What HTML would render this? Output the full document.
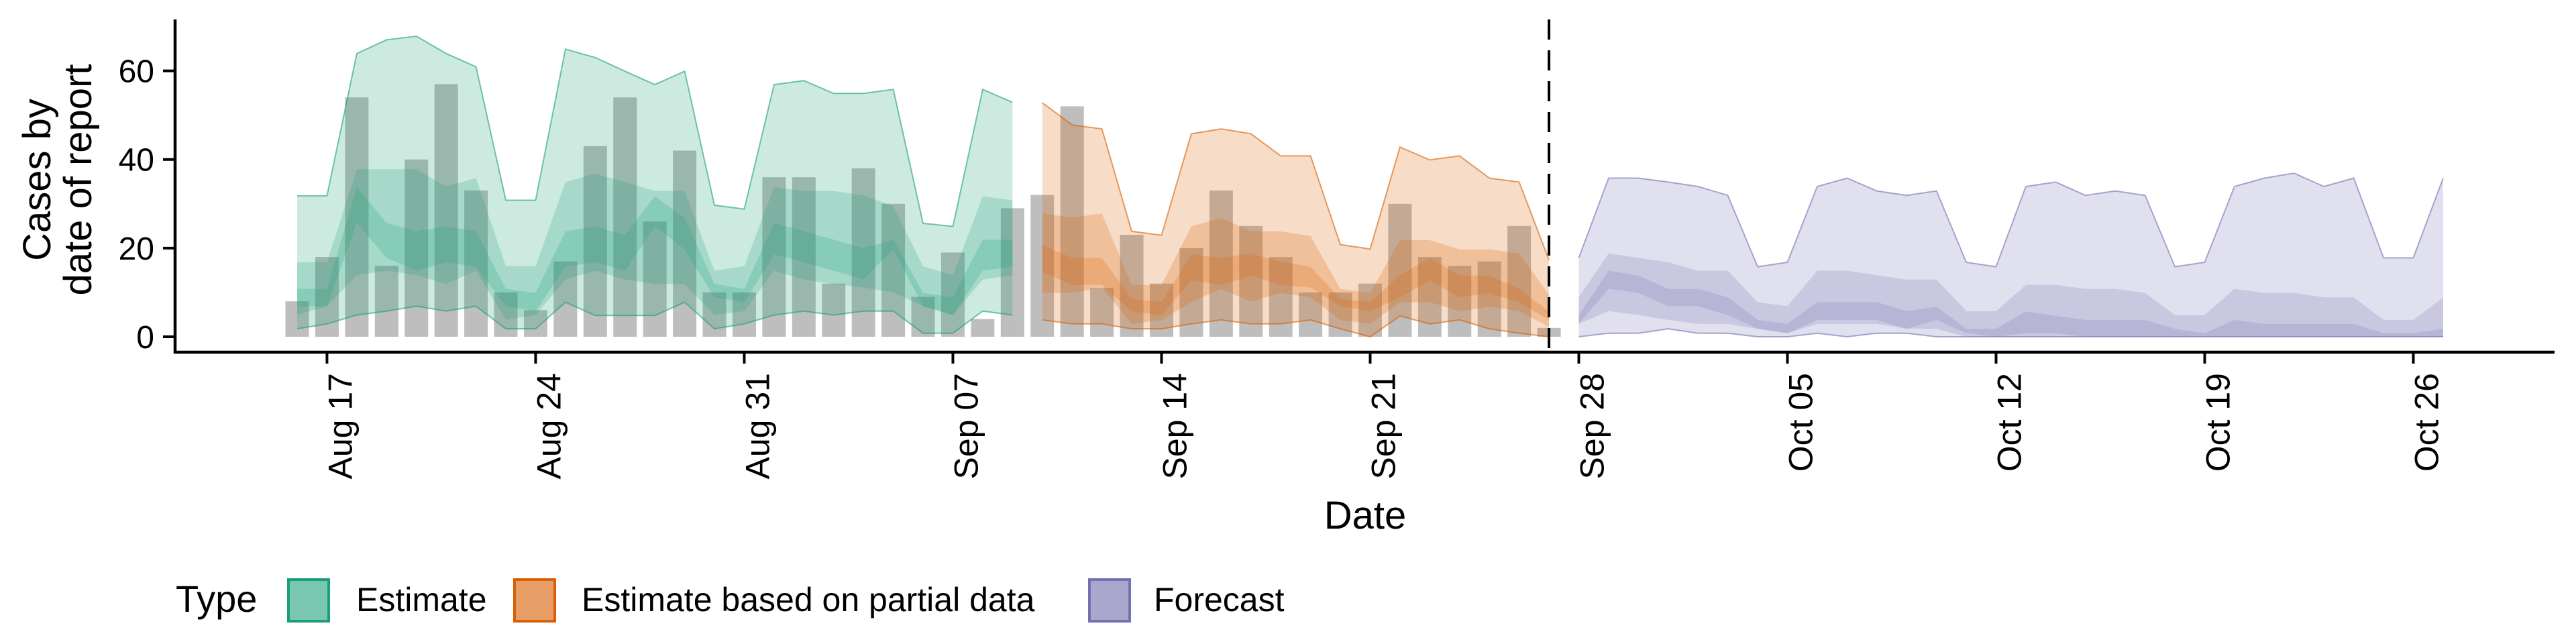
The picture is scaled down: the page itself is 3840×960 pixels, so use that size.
<!DOCTYPE html>
<html><head><meta charset="utf-8"><style>
html,body{margin:0;padding:0;background:#fff;}
svg{display:block;font-family:"Liberation Sans",Arial,sans-serif;}
</style></head><body>
<svg id="chart" width="3840" height="960" viewBox="0 0 3840 960" xmlns="http://www.w3.org/2000/svg">
<g id="plot"></g>
<text transform="translate(75,268) rotate(-90)" text-anchor="middle" font-size="58">Cases by</text>
<text transform="translate(136,268) rotate(-90)" text-anchor="middle" font-size="58">date of report</text>
<text x="2035" y="788" text-anchor="middle" font-size="58">Date</text>
<g>
<text x="262" y="912" font-size="56">Type</text>
<rect x="430" y="864" width="60" height="62" fill="#79c7ae" stroke="#1b9e77" stroke-width="4"/>
<text x="531" y="911" font-size="50">Estimate</text>
<rect x="767" y="864" width="60" height="62" fill="#e79e66" stroke="#d95f02" stroke-width="4"/>
<text x="867" y="911" font-size="50">Estimate based on partial data</text>
<rect x="1624" y="864" width="60" height="62" fill="#aaa7ce" stroke="#7570b3" stroke-width="4"/>
<text x="1720" y="911" font-size="50">Forecast</text>
</g>
</svg>
<script>
const reportedCases=[8,18,54,16,40,57,33,10,6,17,43,54,26,42,10,10,36,36,12,38,30,9,19,4,29,32,52,11,23,12,20,33,25,18,10,10,12,30,18,16,17,25,2];
const estStart=0;
const est90hi=[31.8,31.8,63.9,67,67.8,63.9,60.9,30.8,30.8,64.9,63,59.9,56.9,59.9,29.7,28.8,56.9,57.8,54.9,54.9,55.8,25.6,24.9,55.8,52.9];
const est90lo=[1.8,2.9,4.9,5.8,6.9,5.8,6.9,1.8,1.8,7.8,4.8,4.8,4.8,7.8,1.8,2.9,4.9,5.8,4.9,5.8,5.8,0.8,0.8,5.8,4.9];
const est50hi=[16.8,16.8,37.8,37.8,37.8,33.9,35.8,15.9,15.9,34.9,36.8,34.9,32.9,32.9,14.9,15.9,33.8,32.9,32.9,31.9,29.5,15.9,13.9,31.7,30.8];
const est50lo=[4.9,6.9,13.9,14.9,13.9,11.9,14.9,3.8,4.9,12.9,14.9,12.9,11.9,11.9,4.9,5.8,14.9,12.9,11.9,11.1,10,6.9,4.9,12.9,13.9];
const est20hi=[10.8,10.8,33.8,25.7,23.8,24.9,23.8,10.8,9.9,23.8,24.9,22.9,31.7,26.8,11.9,10.8,25.7,23.8,21.9,20,21.9,9.9,8.9,21.9,21.9];
const est20lo=[6.9,6.9,25.7,17.8,14.9,16.8,15.8,6.9,5.8,15.8,16.8,14.9,24.9,19.7,8.9,7.8,18.6,16.8,14.9,13,19.7,6.9,4.9,14.9,15.8];
const partStart=25;
const part90hi=[52.8,47.8,46.9,23.8,22.9,45.8,46.9,45.8,40.8,40.8,20.8,19.8,42.8,39.9,40.8,35.8,34.9,17.3];
const part90lo=[3.8,2.9,2.9,1.8,1.8,2.9,3.8,2.9,2.9,3.8,1.8,0,4.7,2.9,3.8,1.8,0.8,0];
const part50hi=[27.8,26.9,27.8,11.7,11.7,24.9,26.8,23.8,23.8,22.7,10.8,9.9,21.8,21.8,19.7,19.7,18.8,9.5];
const part50lo=[9.9,9.9,11.1,2.9,3.8,7.8,10.8,7.9,9.9,8.9,3.8,2.9,7.8,7.8,5.8,6.8,5.8,2.2];
const part20hi=[20.7,17.8,17.8,8.6,7.8,18.6,17.8,18.8,16.9,15.8,8.6,7.8,13.9,17.8,13.8,13.8,10.8,5.7];
const part20lo=[14.6,11.7,11.7,5.7,4.9,12.7,11.7,13.8,11.7,11.1,6.9,5.8,8.9,12.7,8.9,9.9,7.8,3.8];
const fcStart=43;
const fc90hi=[17.8,35.8,35.8,34.9,33.9,31.9,15.8,16.8,33.9,35.8,32.9,31.9,32.9,16.8,15.8,33.9,34.9,31.9,32.9,31.9,15.8,16.8,33.9,35.8,36.9,33.9,35.8,17.8,17.8,35.8];
const fc90lo=[0,0.8,0.8,1.8,0.8,0.8,0,0,0.8,0,0.8,0.8,0,0,0,0,0,0,0,0,0,0,0,0,0,0,0,0,0,0];
const fc50hi=[8.9,18.8,17.8,16.8,14.9,14.9,7.8,6.9,14.9,14.9,13.9,12.9,12.9,5.8,5.8,11.7,11.7,10.8,10.8,9.9,4.9,4.9,10.8,9.9,9.9,8.9,8.9,3.8,3.8,8.9];
const fc50lo=[2.9,5.8,4.9,3.8,2.9,2.9,1.8,0.8,2.9,2.9,2.9,1.8,1.8,0,0,0.8,0.8,0,0,0,0,0,0,0,0,0,0,0,0,0];
const fc20hi=[4.9,14.9,13.8,10.8,10.8,8.9,3.8,2.9,7.8,7.8,7.8,5.8,6.8,1.8,1.8,5.7,4.7,3.8,3.8,3.8,1.8,0.8,3.8,2.9,2.9,2.9,2.9,0.8,0.8,1.8];
const fc20lo=[2.9,10.8,9.9,6.9,6.9,4.9,1.8,0.8,3.8,3.8,3.8,1.8,3.8,0.8,0,0,0,0,0,0,0,0,0,0,0,0,0,0,0,0];
const yTicks=[0,20,40,60];
const xTickDays=[1,8,15,22,29,36,43,50,57,64,71];
const xTickLabels=["Aug 17","Aug 24","Aug 31","Sep 07","Sep 14","Sep 21","Sep 28","Oct 05","Oct 12","Oct 19","Oct 26"];
const nowcastDay=42;

const NS="http://www.w3.org/2000/svg";
const X0=443, DX=44.43, Y0=502, DY=6.607;
function xs(d){return X0+DX*d;}
function ys(v){return Y0-DY*v;}
const plot=document.getElementById('plot');
function mk(tag,attrs){const e=document.createElementNS(NS,tag);for(const k in attrs)e.setAttribute(k,attrs[k]);plot.appendChild(e);return e;}

// bars
reportedCases.forEach((v,i)=>{
  const r=mk('rect',{x:xs(i)-17.5,y:ys(v),width:35,height:Y0-ys(v),fill:'#bebebe'});
  
  
});
function band(start,lo,hi,col,alpha,name,edge){
  let pts=[];
  hi.forEach((v,i)=>pts.push(xs(start+i).toFixed(1)+','+ys(v).toFixed(1)));
  for(let i=lo.length-1;i>=0;i--)pts.push(xs(start+i).toFixed(1)+','+ys(lo[i]).toFixed(1));
  const p=mk('polygon',{points:pts.join(' '),fill:col,'fill-opacity':alpha});
  
  
  if(edge){
    const l1=mk('polyline',{points:hi.map((v,i)=>xs(start+i).toFixed(1)+','+ys(v).toFixed(1)).join(' '),fill:'none',stroke:col,'stroke-opacity':0.6,'stroke-width':2});
    
    
    const l2=mk('polyline',{points:lo.map((v,i)=>xs(start+i).toFixed(1)+','+ys(v).toFixed(1)).join(' '),fill:'none',stroke:col,'stroke-opacity':0.6,'stroke-width':2});
    
    
  }
}
const A=0.22;
band(estStart,est90lo,est90hi,'#1b9e77',A,'estimate-band-90',true);
band(estStart,est50lo,est50hi,'#1b9e77',A,'estimate-band-50',false);
band(estStart,est20lo,est20hi,'#1b9e77',A,'estimate-band-20',false);
band(partStart,part90lo,part90hi,'#d95f02',A,'partial-band-90',true);
band(partStart,part50lo,part50hi,'#d95f02',A,'partial-band-50',false);
band(partStart,part20lo,part20hi,'#d95f02',A,'partial-band-20',false);
band(fcStart,fc90lo,fc90hi,'#7570b3',A,'forecast-band-90',true);
band(fcStart,fc50lo,fc50hi,'#7570b3',A,'forecast-band-50',false);
band(fcStart,fc20lo,fc20hi,'#7570b3',A,'forecast-band-20',false);

// dashed line
const dl=mk('line',{x1:xs(nowcastDay),x2:xs(nowcastDay),y1:29,y2:525,stroke:'#000','stroke-width':4,'stroke-dasharray':'30 16'});



// axes
const ya=mk('line',{x1:261,x2:261,y1:29,y2:527,stroke:'#000','stroke-width':4.5});


const xa=mk('line',{x1:259,x2:3808,y1:525,y2:525,stroke:'#000','stroke-width':4.5});


yTicks.forEach(t=>{
  const tk=mk('line',{x1:243,x2:261,y1:ys(t),y2:ys(t),stroke:'#000','stroke-width':4});
  
  
  const tx=mk('text',{x:230,y:ys(t)+17,'text-anchor':'end','font-size':48});
  tx.textContent=String(t);
  
  
});
xTickDays.forEach((d,i)=>{
  const x=xs(d);
  const tk=mk('line',{x1:x,x2:x,y1:525,y2:542,stroke:'#000','stroke-width':4});
  
  
  const tx=mk('text',{transform:'translate('+(x+37)+',556) rotate(-90)','text-anchor':'end','font-size':50});
  tx.textContent=xTickLabels[i];
  
  
});
</script>
</body></html>
